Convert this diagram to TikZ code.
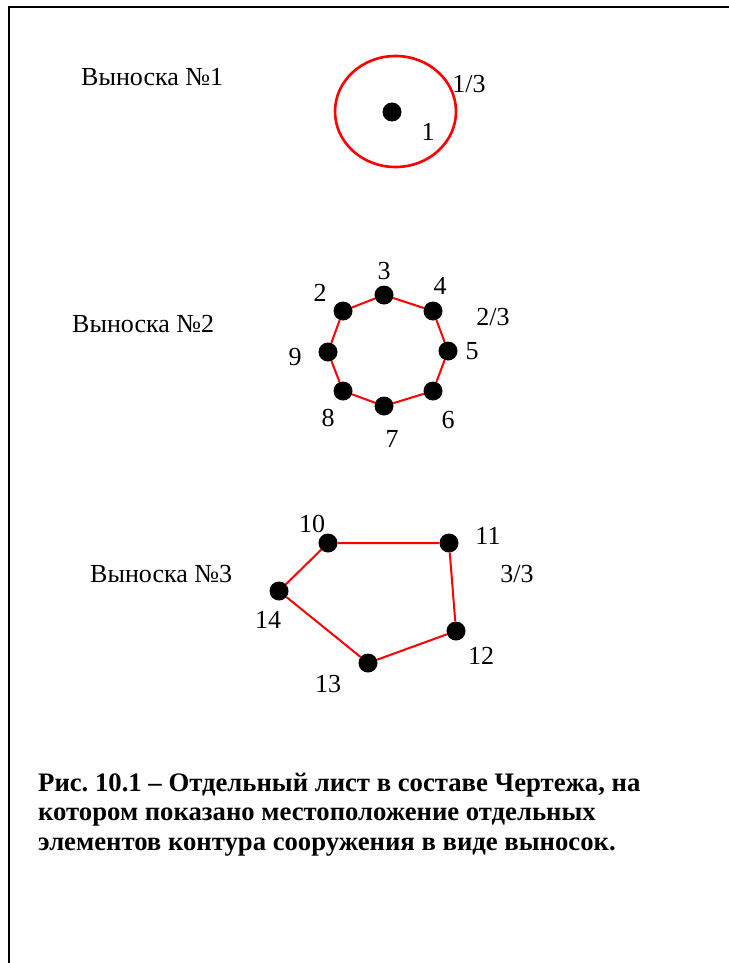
\documentclass[tikz,border=0pt]{standalone}
\usepackage{fontspec}
\setmainfont{Liberation Serif}
\frenchspacing
\usetikzlibrary{shapes.geometric}
\tikzset{
  dot/.style={circle, fill=black, inner sep=0pt, minimum size=19pt},
  redline/.style={draw=red, line width=2pt},
  lbl/.style={font=\fontsize{26}{30}\selectfont, inner sep=0pt},
  title/.style={font=\fontsize{26}{30}\selectfont, inner sep=0pt, anchor=base west},
  frame/.style={line width=2pt}
}
\begin{document}
\begin{tikzpicture}[x=1pt,y=-1pt]
\useasboundingbox (0,0) rectangle (728,963);
\draw[frame] (9,966) -- (9,7) -- (729,7);

% Callout 1
\node[title] (t1) at (81,86) {Выноска №1};
\node[ellipse, draw=red, line width=2.6pt, minimum width=121pt, minimum height=111pt, inner sep=0pt] (c1) at (395.5,111.5) {};
\node[dot] (p1) at (392,112) {};
\node[lbl] (l13) at (469,84) {1/3};
\node[lbl] (l1) at (428,132) {1};

% Callout 2
\node[title] (t2) at (72,332) {Выноска №2};
\node[dot] (p2) at (343,311) {};
\node[dot] (p3) at (384,295) {};
\node[dot] (p4) at (433,311) {};
\node[dot] (p5) at (448,351) {};
\node[dot] (p6) at (433,391) {};
\node[dot] (p7) at (384,406) {};
\node[dot] (p8) at (343,391) {};
\node[dot] (p9) at (328,352) {};
\draw[redline] (p2) -- (p3) -- (p4) -- (p5) -- (p6) -- (p7) -- (p8) -- (p9) -- (p2);
\node[lbl] (l3) at (384,271) {3};
\node[lbl] (l4) at (440,286) {4};
\node[lbl] (l23) at (493,317) {2/3};
\node[lbl] (l5) at (472,351) {5};
\node[lbl] (l6) at (448,420) {6};
\node[lbl] (l7) at (392,439) {7};
\node[lbl] (l8) at (328,418) {8};
\node[lbl] (l9) at (295,357) {9};
\node[lbl] (l2) at (320,293) {2};

% Callout 3
\node[title] (t3) at (90,582) {Выноска №3};
\node[dot] (p10) at (328,543) {};
\node[dot] (p11) at (449,543) {};
\node[dot] (p12) at (456,631) {};
\node[dot] (p13) at (368,663) {};
\node[dot] (p14) at (279,591) {};
\draw[redline] (p10) -- (p11) -- (p12) -- (p13) -- (p14) -- (p10);
\node[lbl] (l10) at (312,524) {10};
\node[lbl] (l11) at (488,536) {11};
\node[lbl] (l33) at (517,574) {3/3};
\node[lbl] (l12) at (481,656) {12};
\node[lbl] (l13b) at (328,684) {13};
\node[lbl] (l14) at (268,620) {14};

% Caption (base anchor = last line's baseline)
\node[font=\fontsize{26.7}{29.5}\selectfont\bfseries, inner sep=0pt, anchor=base west, align=left] (cap) at (38,850)
  {Рис. 10.1 – Отдельный лист в составе Чертежа, на\\
   котором показано местоположение отдельных\\
   элементов контура сооружения в виде выносок.};
\end{tikzpicture}
\end{document}
